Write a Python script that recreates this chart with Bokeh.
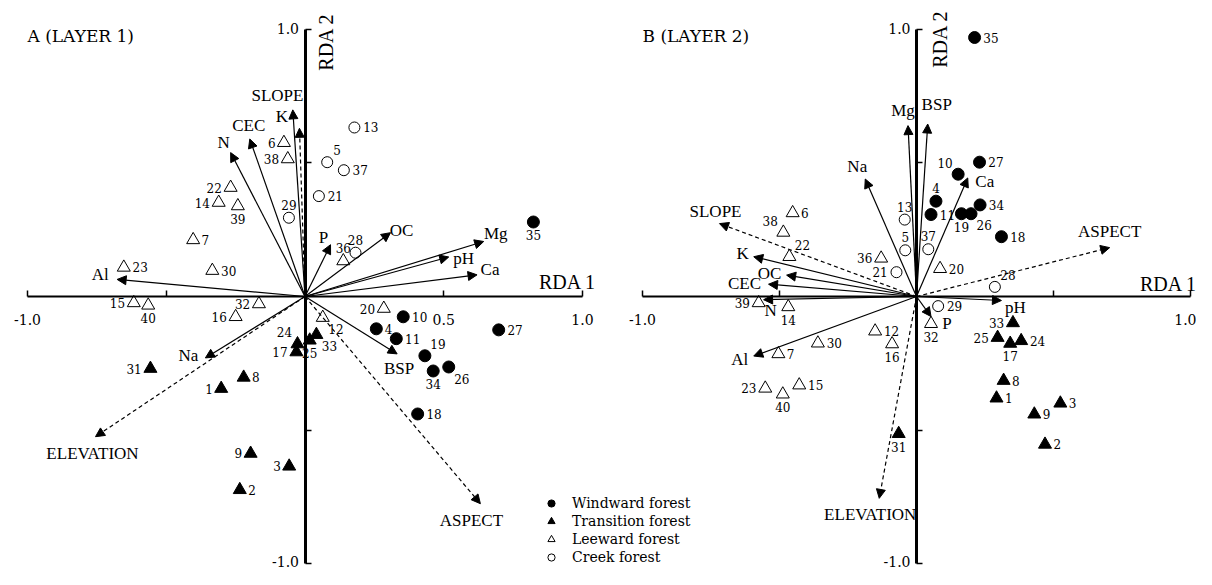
import math
from bokeh.plotting import figure
from bokeh.models import (ColumnDataSource, Range1d, LinearAxis, FixedTicker, Arrow,
                          NormalHead, Legend, LegendItem, Label)
from bokeh.core.properties import value
from bokeh.embed import file_html
from bokeh.resources import INLINE

# ---------------- DATA: Panel A (layer 1) ----------------
windA_id = [35, 27, 10, 4, 11, 19, 34, 26, 18]
windA_x = [0.823, 0.698, 0.354, 0.257, 0.329, 0.432, 0.462, 0.518, 0.406]
windA_y = [0.279, -0.125, -0.076, -0.121, -0.158, -0.222, -0.279, -0.264, -0.440]

transA_id = [31, 1, 8, 9, 3, 2, 24, 17, 33, 25]
transA_x = [-0.557, -0.302, -0.221, -0.196, -0.057, -0.235, -0.027, -0.031, 0.041, 0.017]
transA_y = [-0.270, -0.345, -0.303, -0.588, -0.636, -0.724, -0.178, -0.208, -0.143, -0.164]

leeA_id = [6, 38, 22, 14, 39, 7, 23, 30, 15, 40, 32, 16, 36, 20, 12]
leeA_x = [-0.076, -0.062, -0.268, -0.311, -0.242, -0.403, -0.653, -0.334, -0.617, -0.565,
          -0.166, -0.250, 0.138, 0.284, 0.064]
leeA_y = [0.576, 0.515, 0.408, 0.352, 0.339, 0.212, 0.109, 0.097, -0.024, -0.033,
          -0.028, -0.076, 0.133, -0.045, -0.079]

creekA_id = [13, 5, 37, 21, 29, 28]
creekA_x = [0.178, 0.080, 0.140, 0.050, -0.058, 0.182]
creekA_y = [0.633, 0.503, 0.473, 0.376, 0.295, 0.164]

varA = ["Mg", "pH", "Ca", "OC", "P", "SLOPE", "K", "CEC", "N", "Al", "Na", "ELEVATION", "BSP", "ASPECT"]
varA_x = [0.644, 0.518, 0.620, 0.308, 0.092, -0.020, -0.044, -0.199, -0.268, -0.677, -0.359, -0.755, 0.332, 0.632]
varA_y = [0.206, 0.148, 0.081, 0.239, 0.194, 0.630, 0.699, 0.590, 0.539, 0.064, -0.230, -0.525, -0.215, -0.776]

# ---------------- DATA: Panel B (layer 2) ----------------
windB_id = [35, 27, 10, 4, 11, 19, 26, 34, 18]
windB_x = [0.212, 0.230, 0.152, 0.071, 0.053, 0.164, 0.199, 0.232, 0.310]
windB_y = [0.970, 0.503, 0.458, 0.357, 0.307, 0.310, 0.310, 0.343, 0.224]

transB_id = [33, 25, 17, 24, 8, 1, 3, 9, 2, 31]
transB_x = [0.352, 0.296, 0.342, 0.382, 0.318, 0.292, 0.525, 0.430, 0.469, -0.065]
transB_y = [-0.099, -0.154, -0.176, -0.166, -0.315, -0.381, -0.400, -0.441, -0.554, -0.514]

leeB_id = [6, 38, 22, 36, 39, 14, 30, 7, 12, 16, 23, 40, 15, 20, 32]
leeB_x = [-0.452, -0.486, -0.464, -0.129, -0.576, -0.468, -0.360, -0.504, -0.151, -0.089,
          -0.552, -0.488, -0.428, 0.086, 0.053]
leeB_y = [0.313, 0.240, 0.149, 0.143, -0.024, -0.039, -0.175, -0.215, -0.130, -0.178,
          -0.344, -0.366, -0.332, 0.104, -0.102]

creekB_id = [13, 5, 37, 21, 28, 29]
creekB_x = [-0.043, -0.041, 0.043, -0.073, 0.286, 0.079]
creekB_y = [0.288, 0.173, 0.177, 0.091, 0.036, -0.036]

varB = ["Mg", "BSP", "Na", "Ca", "ASPECT", "SLOPE", "K", "OC", "CEC", "N", "Al", "ELEVATION", "pH", "P"]
varB_x = [-0.031, 0.041, -0.187, 0.187, 0.705, -0.719, -0.594, -0.474, -0.540, -0.558, -0.594, -0.136, 0.310, 0.053]
varB_y = [0.640, 0.646, 0.440, 0.444, 0.183, 0.273, 0.149, 0.080, 0.046, -0.012, -0.223, -0.756, -0.015, -0.075]

dashed_vars = ["SLOPE", "ELEVATION", "ASPECT"]
legend_labels = ["Windward forest", "Transition forest", "Leeward forest", "Creek forest"]

# ---------------- label placement (styling) ----------------
windA_side = ["b", "r", "r", "r", "r", "ar", "b", "br", "r"]
transA_side = ["l", "l", "r", "l", "l", "r", "al", "l", "br", "b"]
leeA_side = ["l", "l", "l", "l", "b", "r", "r", "r", "l", "b", "l", "l", "a", "l", "br"]
creekA_side = ["r", "ar", "r", "r", "a", "a"]
windB_side = ["r", "r", "al", "a", "r", "b", "br", "r", "r"]
transB_side = ["l", "l", "b", "r", "r", "r", "r", "r", "r", "b"]
leeB_side = ["r", "al", "ar", "l", "l", "b", "r", "r", "r", "b", "l", "b", "r", "r", "b"]
creekB_side = ["a", "a", "a", "l", "ar", "r"]

varA_dx = [12, 15, 13, 11, -7, -22, -11, -1, -7, -17, -17, -3, 2, -9]
varA_dy = [-8, 2, -5, -2, -7, -33, 7, -13, -10, -5, -2, 17, 15, 17]
varB_dx = [-5, 9, -8, 17, 0, -4, -11, -17, -24, 7, -14, -9, 14, 16]
varB_dy = [-15, -20, -13, 4, -16, -12, -3, -2, -1, 11, 3, 16, 7, 7]

SIDE = {"r": (1, 0), "l": (-1, 0), "a": (0, -1), "b": (0, 1),
        "ar": (0.8, -0.9), "al": (-0.8, -0.9), "br": (0.8, 0.9), "bl": (-0.8, 0.9)}

SERIF = "DejaVu Serif"
LSERIF = "Liberation Serif"
INK = "black"

W, H = 1196, 569
p = figure(width=W, height=H, output_backend="svg", toolbar_location=None,
           x_range=Range1d(-1.09730, 3.21261), y_range=Range1d(-1.02247, 1.10861),
           x_axis_type=None, y_axis_type=None, min_border=0,
           outline_line_color=None, background_fill_color="white", border_fill_color="white")
p.extra_x_ranges = {"B": Range1d(-3.34307, 1.02190)}


def rkw(rng):
    return {} if rng is None else {"x_range_name": rng}


def add_axes(rng, xlab):
    common = dict(fixed_location=0, bounds=(-1, 1),
                  major_tick_in=6, major_tick_out=0, minor_tick_line_color=None,
                  axis_line_color=INK, major_tick_line_color=INK, major_tick_line_width=1.5,
                  major_label_text_font=SERIF, major_label_text_font_size="14px",
                  major_label_text_color=INK, **rkw(rng))
    xa = LinearAxis(ticker=FixedTicker(ticks=[-1.0, -0.5, 0.5, 1.0]),
                    major_label_overrides=xlab, axis_line_width=2,
                    major_label_standoff=16, **common)
    p.add_layout(xa, "below")
    ya = LinearAxis(ticker=FixedTicker(ticks=[-1.0, -0.5, 0.5, 1.0]),
                    major_label_overrides={-1.0: "-1.0", -0.5: " ", 0.5: " ", 1.0: "1.0"},
                    axis_line_width=3, major_label_standoff=6, **common)
    p.add_layout(ya, "left")


def add_arrows(names, xs, ys, dx, dy, rng):
    for dashed in (False, True):
        idx = [i for i, n in enumerate(names) if (n in dashed_vars) == dashed]
        src = ColumnDataSource(dict(x0=[0.0] * len(idx), y0=[0.0] * len(idx),
                                    x1=[xs[i] for i in idx], y1=[ys[i] for i in idx]))
        arr = Arrow(source=src, x_start="x0", y_start="y0", x_end="x1", y_end="y1",
                    end=NormalHead(size=9, fill_color=INK, line_color=INK, line_width=1),
                    line_color=INK, line_width=1.2,
                    line_dash="4 3" if dashed else "solid", **rkw(rng))
        p.add_layout(arr)
    tsrc = ColumnDataSource(dict(x=xs, y=ys, t=names, dx=dx, dy=dy))
    p.text(x="x", y="y", text="t", source=tsrc, x_offset="dx", y_offset="dy",
           text_font=value(LSERIF), text_font_size="17px", text_align="center",
           text_baseline="middle", text_color=INK, **rkw(rng))


def add_points(ids, xs, ys, sides, style, rng):
    src = ColumnDataSource(dict(x=xs, y=ys))
    r = p.scatter(x="x", y="y", source=src, **style, **rkw(rng))
    dxs, dys = [], []
    for i, s in zip(ids, sides):
        ux, uy = SIDE[s]
        w = 4.2 * len(str(i))
        dxs.append(ux * (8 + w))
        dys.append(uy * 13)
    lsrc = ColumnDataSource(dict(x=xs, y=ys, t=[str(i) for i in ids], dx=dxs, dy=dys))
    p.text(x="x", y="y", text="t", source=lsrc, x_offset="dx", y_offset="dy",
           text_font=value(SERIF), text_font_size="12px", text_align="center",
           text_baseline="middle", text_color=INK, **rkw(rng))
    return r


ST_WIND = dict(marker="circle", size=12, fill_color=INK, line_color=INK)
ST_TRANS = dict(marker="triangle", size=13, fill_color=INK, line_color=INK)
ST_LEE = dict(marker="triangle", size=13, fill_color=None, line_color=INK, line_width=1)
ST_CREEK = dict(marker="circle", size=11, fill_color=None, line_color=INK, line_width=1)

# Panel A
add_axes(None, {-1.0: "-1.0", -0.5: " ", 0.5: "0.5", 1.0: "1.0"})
add_arrows(varA, varA_x, varA_y, varA_dx, varA_dy, None)
rw = add_points(windA_id, windA_x, windA_y, windA_side, ST_WIND, None)
rt = add_points(transA_id, transA_x, transA_y, transA_side, ST_TRANS, None)
rl = add_points(leeA_id, leeA_x, leeA_y, leeA_side, ST_LEE, None)
rc = add_points(creekA_id, creekA_x, creekA_y, creekA_side, ST_CREEK, None)

# Panel B
add_axes("B", {-1.0: "-1.0", -0.5: " ", 0.5: " ", 1.0: "1.0"})
add_arrows(varB, varB_x, varB_y, varB_dx, varB_dy, "B")
add_points(windB_id, windB_x, windB_y, windB_side, ST_WIND, "B")
add_points(transB_id, transB_x, transB_y, transB_side, ST_TRANS, "B")
add_points(leeB_id, leeB_x, leeB_y, leeB_side, ST_LEE, "B")
add_points(creekB_id, creekB_x, creekB_y, creekB_side, ST_CREEK, "B")

# Titles & axis names
for rng, title in ((None, "A (LAYER 1)"), ("B", "B (LAYER 2)")):
    p.add_layout(Label(x=-1.0, y=0.975, text=title, text_font=SERIF, text_font_size="17px",
                       text_color=INK, text_align="left", text_baseline="middle", **rkw(rng)))
for rng, x1, y1, x2, y2 in ((None, 0.946, 0.055, 0.074, 0.953), ("B", 0.92, 0.045, 0.086, 0.964)):
    p.add_layout(Label(x=x1, y=y1, text="RDA 1", text_font=LSERIF, text_font_size="20px",
                       text_color=INK, text_align="center", text_baseline="middle", **rkw(rng)))
    p.add_layout(Label(x=x2, y=y2, text="RDA 2", text_font=LSERIF, text_font_size="20px",
                       text_color=INK, angle=math.pi / 2, text_align="center",
                       text_baseline="middle", **rkw(rng)))

legend = Legend(items=[LegendItem(label=lab, renderers=[r])
                       for lab, r in zip(legend_labels, [rw, rt, rl, rc])],
                location=(542, 3), orientation="vertical",
                glyph_height=18, glyph_width=18, label_height=18, spacing=0,
                padding=0, margin=0, label_standoff=12,
                label_text_font=SERIF, label_text_font_size="14px", label_text_color=INK,
                background_fill_alpha=0, border_line_alpha=0)
p.add_layout(legend)

open("out.html", "w").write(file_html(p, INLINE))
